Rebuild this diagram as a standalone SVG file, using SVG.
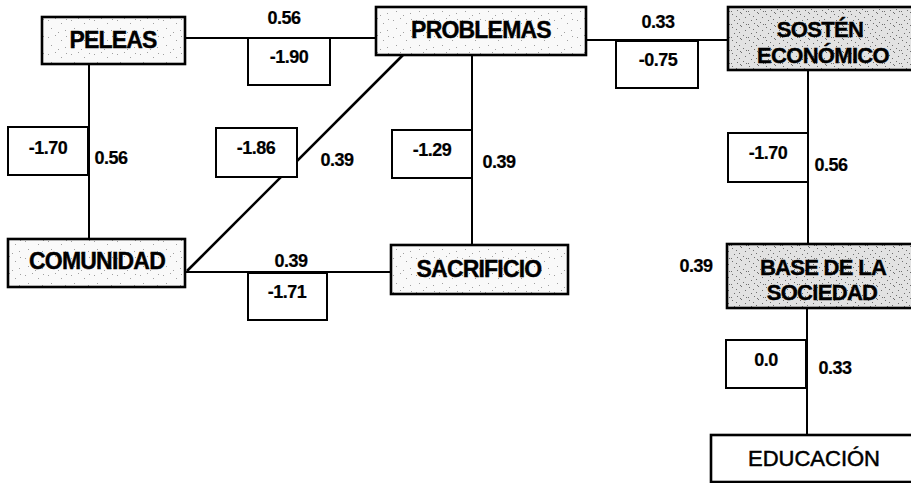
<svg xmlns="http://www.w3.org/2000/svg" width="911" height="483" viewBox="0 0 911 483">
  <defs>
    <pattern id="speckLight" width="23" height="17" patternUnits="userSpaceOnUse">
      <rect width="23" height="17" fill="#f9f9f9"/>
      <g fill="#a0a0a0">
        <rect x="2" y="3" width="1" height="1"/>
        <rect x="9" y="1" width="1" height="1"/>
        <rect x="15" y="6" width="1" height="1"/>
        <rect x="5" y="11" width="1" height="1"/>
        <rect x="19" y="13" width="1" height="1"/>
        <rect x="12" y="15" width="1" height="1"/>
        <rect x="20" y="2" width="1" height="1"/>
      </g>
    </pattern>
    <pattern id="speckDark" width="17" height="13" patternUnits="userSpaceOnUse">
      <rect width="17" height="13" fill="#e2e2e2"/>
      <g fill="#6e6e6e">
        <rect x="1" y="1" width="1" height="1"/>
        <rect x="5" y="3" width="1" height="1"/>
        <rect x="10" y="0" width="1" height="1"/>
        <rect x="14" y="4" width="1" height="1"/>
        <rect x="3" y="7" width="1" height="1"/>
        <rect x="8" y="6" width="1" height="1"/>
        <rect x="12" y="9" width="1" height="1"/>
        <rect x="0" y="11" width="1" height="1"/>
        <rect x="6" y="10" width="1" height="1"/>
        <rect x="15" y="11" width="1" height="1"/>
        <rect x="9" y="12" width="1" height="1"/>
      </g>
    </pattern>
  </defs>
  <style>
    .node { stroke: #000; stroke-width: 2.6; }
    .light { fill: url(#speckLight); }
    .dark { fill: url(#speckDark); }
    .plain { fill: #fff; }
    .nlabel { font-family: "Liberation Sans", Arial, sans-serif; font-weight: bold; font-size: 23px; letter-spacing: -0.8px; text-anchor: middle; fill: #000; stroke: #000; stroke-width: 0.4; }
    .nlabel2 { font-family: "Liberation Sans", Arial, sans-serif; font-weight: bold; font-size: 22px; letter-spacing: -0.7px; text-anchor: middle; fill: #000; stroke: #000; stroke-width: 0.4; }
    .reg { font-family: "Liberation Sans", Arial, sans-serif; font-size: 22px; text-anchor: middle; fill: #000; stroke: #000; stroke-width: 0.5; }
    .edge { stroke: #000; stroke-width: 2; fill: none; }
    .diag { stroke: #000; stroke-width: 2.6; fill: none; }
    .lbox { fill: #fff; stroke: #000; stroke-width: 2; }
    .num { font-family: "Liberation Sans", Arial, sans-serif; font-weight: bold; font-size: 18px; letter-spacing: -0.5px; text-anchor: middle; fill: #000; stroke: #000; stroke-width: 0.2; }
  </style>

  <rect width="911" height="483" fill="#fff"/>

  <g id="connectors">
    <line class="edge" x1="185" y1="38" x2="376" y2="38"/>
    <line class="edge" x1="89" y1="64" x2="89" y2="239"/>
    <line class="diag" x1="403" y1="55" x2="187" y2="271"/>
    <line class="edge" x1="185" y1="272" x2="391" y2="272"/>
    <line class="edge" x1="472" y1="55" x2="472" y2="245"/>
    <line class="edge" x1="586" y1="40" x2="728" y2="40"/>
    <line class="edge" x1="808" y1="70" x2="808" y2="244"/>
    <line class="edge" x1="807" y1="308" x2="807" y2="435"/>
  </g>

  <g id="edge-labels">
    <text class="num" x="284" y="24">0.56</text>
    <rect class="lbox" x="248" y="38" width="82" height="47"/>
    <text class="num" x="289" y="63">-1.90</text>

    <rect class="lbox" x="8" y="127" width="80" height="48"/>
    <text class="num" x="48" y="154">-1.70</text>
    <text class="num" x="111" y="164">0.56</text>

    <rect class="lbox" x="216" y="128" width="81" height="49"/>
    <text class="num" x="256" y="154">-1.86</text>
    <text class="num" x="337" y="166">0.39</text>

    <rect class="lbox" x="392" y="130" width="80" height="48"/>
    <text class="num" x="432" y="156">-1.29</text>
    <text class="num" x="499" y="168">0.39</text>

    <text class="num" x="291" y="267">0.39</text>
    <rect class="lbox" x="248" y="273" width="79" height="47"/>
    <text class="num" x="287" y="298">-1.71</text>

    <text class="num" x="658" y="28">0.33</text>
    <rect class="lbox" x="616" y="41" width="82" height="47"/>
    <text class="num" x="658" y="66">-0.75</text>

    <rect class="lbox" x="728" y="133" width="80" height="49"/>
    <text class="num" x="768" y="159">-1.70</text>
    <text class="num" x="831" y="171">0.56</text>

    <text class="num" x="696" y="272">0.39</text>

    <rect class="lbox" x="726" y="340" width="80" height="48"/>
    <text class="num" x="766" y="366">0.0</text>
    <text class="num" x="835" y="374">0.33</text>
  </g>

  <g id="node-peleas">
    <rect class="node light" x="42" y="17" width="143" height="47"/>
    <text class="nlabel" x="113" y="48">PELEAS</text>
  </g>
  <g id="node-problemas">
    <rect class="node light" x="376" y="7" width="210" height="48"/>
    <text class="nlabel" x="481" y="38">PROBLEMAS</text>
  </g>
  <g id="node-sosten">
    <rect class="node dark" x="728" y="7" width="190" height="63"/>
    <text class="nlabel2" x="820" y="37">SOSTÉN</text>
    <text class="nlabel2" x="823" y="63">ECONÓMICO</text>
  </g>
  <g id="node-comunidad">
    <rect class="node light" x="8" y="239" width="177" height="48"/>
    <text class="nlabel" x="97" y="269">COMUNIDAD</text>
  </g>
  <g id="node-sacrificio">
    <rect class="node light" x="391" y="245" width="177" height="49"/>
    <text class="nlabel" x="479" y="277">SACRIFICIO</text>
  </g>
  <g id="node-base">
    <rect class="node dark" x="727" y="244" width="190" height="64"/>
    <text class="nlabel2" x="823" y="275">BASE DE LA</text>
    <text class="nlabel2" x="822" y="300">SOCIEDAD</text>
  </g>
  <g id="node-educacion">
    <rect class="node plain" x="711" y="435" width="210" height="47"/>
    <text class="reg" x="814" y="466">EDUCACIÓN</text>
  </g>
</svg>
